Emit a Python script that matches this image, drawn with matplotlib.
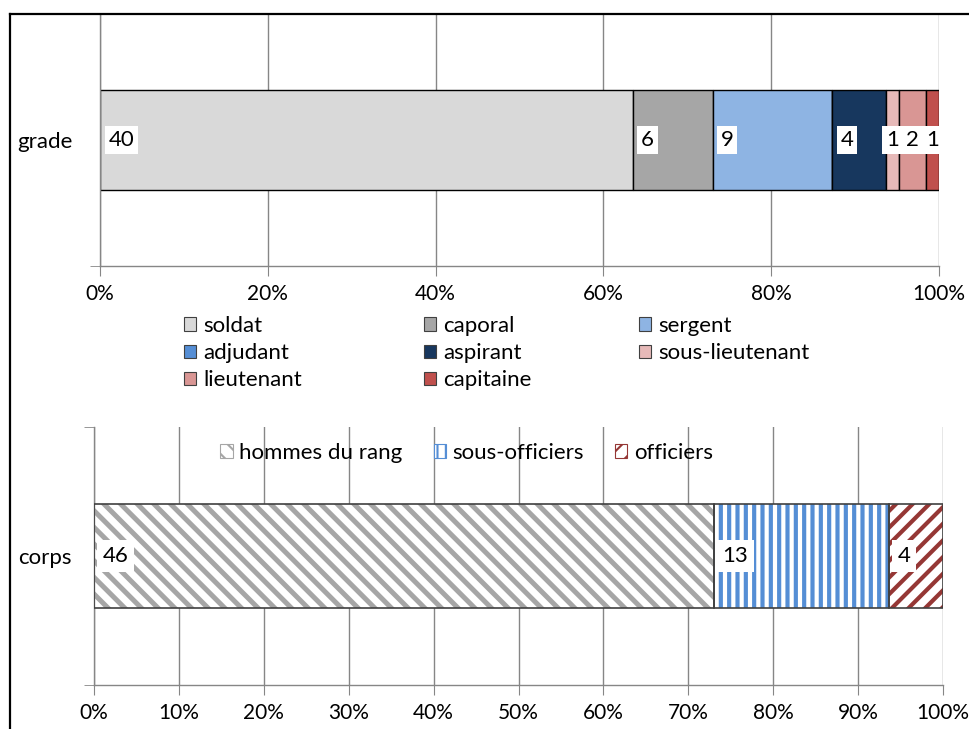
import matplotlib
matplotlib.use("Agg")
import matplotlib.pyplot as plt
import matplotlib.patches as mpatches
from matplotlib.lines import Line2D
from matplotlib.ticker import FuncFormatter, FixedLocator

plt.rcParams['font.family'] = ['Lato', 'DejaVu Sans']
FS = 16
TFS = 15

# ---- data ----
grade_labels = ['soldat', 'caporal', 'sergent', 'adjudant', 'aspirant',
                'sous-lieutenant', 'lieutenant', 'capitaine']
grade_values = [40, 6, 9, 0, 4, 1, 2, 1]
grade_colors = ['#D9D9D9', '#A6A6A6', '#8EB4E3', '#558ED5', '#17375E',
                '#E6B9B8', '#D99694', '#C0504D']

corps_labels = ['hommes du rang', 'sous-officiers', 'officiers']
corps_values = [46, 13, 4]
corps_colors = ['#A6A6A6', '#558ED5', '#953735']
corps_hatches = ['\\\\', '||', '//']

top_ticks = [0, 20, 40, 60, 80, 100]
bottom_ticks = [0, 10, 20, 30, 40, 50, 60, 70, 80, 90, 100]

W, H = 969, 729
fig = plt.figure(figsize=(W / 100, H / 100), dpi=100)

def fig_rect(x0, y0, x1, y1):
    return [x0 / W, 1 - y1 / H, (x1 - x0) / W, (y1 - y0) / H]

ax1 = fig.add_axes(fig_rect(100, 14, 939, 266))
ax2 = fig.add_axes(fig_rect(94, 427, 943, 685))

GRID = '#868686'

def style_axis(ax, ticks, cat, pad):
    ax.set_xlim(0, 100)
    ax.set_ylim(-0.5, 0.5)
    ax.set_xticks(ticks)
    ax.xaxis.set_major_formatter(FuncFormatter(lambda v, p: f'{int(round(v))}%'))
    ax.grid(axis='x', color=GRID, lw=1)
    ax.set_axisbelow(True)
    for s in ['top', 'right']:
        ax.spines[s].set_visible(False)
    for s in ['left', 'bottom']:
        ax.spines[s].set_color(GRID)
        ax.spines[s].set_linewidth(1)
    ax.tick_params(axis='x', direction='out', length=7, color=GRID,
                   labelsize=TFS, pad=6)
    ax.set_yticks([0])
    ax.set_yticklabels([cat])
    ax.tick_params(axis='y', which='major', length=0, labelsize=FS, pad=pad)
    ax.yaxis.set_minor_locator(FixedLocator([-0.5, 0.5]))
    ax.tick_params(axis='y', which='minor', length=7, color=GRID, direction='out')

style_axis(ax1, top_ticks, 'grade', 20)
style_axis(ax2, bottom_ticks, 'corps', 16)

def add_label(ax, left, w, v, pad):
    if w < 5:
        ax.annotate(f'{v}', xy=(left + w / 2, 0), ha='center', va='center', fontsize=FS,
                    bbox=dict(facecolor='white', edgecolor='none', pad=pad), zorder=4)
    else:
        ax.annotate(f'{v}', xy=(left, 0), xytext=(6, 0), textcoords='offset points',
                    ha='left', va='center', fontsize=FS,
                    bbox=dict(facecolor='white', edgecolor='none', pad=pad), zorder=4)

# ---- top bar ----
tot = sum(grade_values)
left = 0
handles_top = []
for lab, v, c in zip(grade_labels, grade_values, grade_colors):
    w = v / tot * 100
    ax1.barh(0, w, left=left, height=0.397, color=c, edgecolor='black', lw=1, zorder=2)
    if v > 0:
        add_label(ax1, left, w, v, 2.5)
    handles_top.append(mpatches.Patch(facecolor=c, edgecolor='#404040', lw=0.8, label=lab))
    left += w

# ---- bottom bar ----
tot2 = sum(corps_values)
left = 0
hatch_lw = [3.6, 3.0, 3.0]
for lab, v, c, h, hl in zip(corps_labels, corps_values, corps_colors, corps_hatches, hatch_lw):
    w = v / tot2 * 100
    plt.rcParams['hatch.linewidth'] = hl
    ax2.barh(0, w, left=left, height=0.4, color='white', edgecolor=c, hatch=h, lw=0, zorder=2)
    ax2.barh(0, w, left=left, height=0.4, fill=False, edgecolor='#404040', lw=1.2, zorder=3)
    add_label(ax2, left, w, v, 4)
    left += w

plt.rcParams['hatch.linewidth'] = 1.5
handles_bot = [mpatches.Patch(facecolor='white', edgecolor=c, hatch=h, lw=0.8, label=lab)
               for lab, c, h in zip(corps_labels, corps_colors, corps_hatches)]

# ---- top legend (three columns) ----
cols = [[0, 3, 6], [1, 4, 7], [2, 5]]
col_x = [184, 424, 639]
for idx, x in zip(cols, col_x):
    fig.legend(handles=[handles_top[i] for i in idx], loc='upper left',
               bbox_to_anchor=(x / W, 1 - 316 / H), frameon=False, fontsize=FS,
               handlelength=0.55, handleheight=0.55, handletextpad=0.3,
               labelspacing=0.32, borderpad=0, borderaxespad=0)

# ---- bottom legend ----
ax2.legend(handles=handles_bot, loc='center', bbox_to_anchor=(0.439, 1 - (453 - 427) / 258),
           ncol=3, frameon=False, fontsize=FS, handlelength=0.55, handleheight=0.55,
           handletextpad=0.3, columnspacing=1.4, borderpad=0)

# ---- frame lines ----
fig.add_artist(Line2D([10 / W, 1], [1 - 14 / H, 1 - 14 / H], color='black', lw=1.6,
                      transform=fig.transFigure))
fig.add_artist(Line2D([10 / W, 10 / W], [0, 1 - 14 / H], color='black', lw=1.6,
                      transform=fig.transFigure))

fig.savefig('out.png', dpi=100)
